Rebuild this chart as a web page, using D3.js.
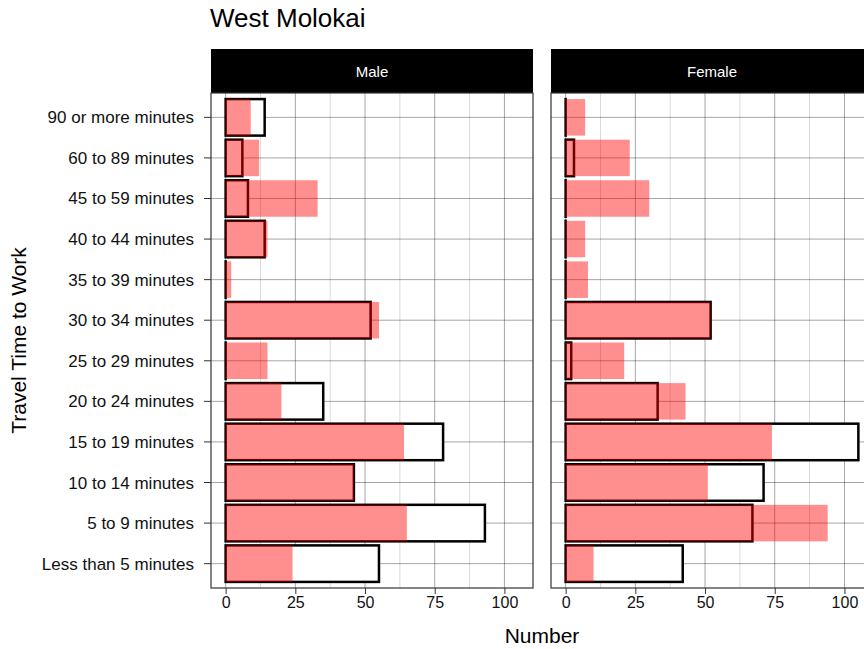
<head>
	<script src="https://d3js.org/d3.v7.min.js"></script>
	<style type="text/css">
		body { margin: 0; }
		text { font-family: "Liberation Sans", Arial, sans-serif; }
	</style>
</head>
<body>
	<script type="text/javascript">
		const categories = ['Less than 5 minutes', '5 to 9 minutes', '10 to 14 minutes', '15 to 19 minutes',
			'20 to 24 minutes', '25 to 29 minutes', '30 to 34 minutes', '35 to 39 minutes',
			'40 to 44 minutes', '45 to 59 minutes', '60 to 89 minutes', '90 or more minutes']
		const panels = ['Male', 'Female']
		// outlined bars
		const maleOutline   = [55, 93, 46, 78, 35, 0, 52, 0, 14, 8, 6, 14]
		const femaleOutline = [42, 67, 71, 105, 33, 2, 52, 0, 0, 0, 3, 0]
		// red translucent bars
		const maleRed   = [24, 65, 46, 64, 20, 15, 55, 2, 15, 33, 12, 9]
		const femaleRed = [10, 94, 51, 74, 43, 21, 52, 8, 7, 30, 23, 7]
		const xTicks = [0, 25, 50, 75, 100]
		const minorTicks = [12.5, 37.5, 62.5, 87.5]

		const width = 864, height = 649
		const panelW = 322, panelTop = 93, panelBottom = 588, stripTop = 49
		const panelLeft = [211, 551]

		const svg = d3.select('body').append('svg')
			.attr('width', width)
			.attr('height', height)

		svg.append('text')
			.attr('x', 210).attr('y', 27)
			.style('font-size', '26px')
			.text('West Molokai')

		// ggplot style discrete axis: 0.6 expansion each side
		const order = categories.slice().reverse()
		const step = (panelBottom - panelTop) / (categories.length - 1 + 1.2)
		const yc = c => panelTop + step * (0.6 + order.indexOf(c))
		const barH = step * 0.9

		const outlineData = [maleOutline, femaleOutline]
		const redData = [maleRed, femaleRed]

		panels.forEach(function(name, p) {
			const x = d3.scaleLinear().domain([-5.25, 110.25]).range([panelLeft[p], panelLeft[p] + panelW])
			const g = svg.append('g')

			// strip
			g.append('rect')
				.attr('x', panelLeft[p]).attr('y', stripTop)
				.attr('width', panelW).attr('height', panelTop - stripTop)
				.style('fill', 'black')
			g.append('text')
				.attr('x', panelLeft[p] + panelW / 2).attr('y', 77)
				.attr('text-anchor', 'middle')
				.style('fill', 'white').style('font-size', '15px')
				.text(name)

			// grid
			g.selectAll('.minor').data(minorTicks).enter().append('line')
				.attr('x1', d => x(d)).attr('x2', d => x(d))
				.attr('y1', panelTop).attr('y2', panelBottom)
				.style('stroke', 'rgba(0,0,0,0.15)').style('stroke-width', 1)
			g.selectAll('.major').data(xTicks).enter().append('line')
				.attr('x1', d => x(d)).attr('x2', d => x(d))
				.attr('y1', panelTop).attr('y2', panelBottom)
				.style('stroke', 'rgba(0,0,0,0.35)').style('stroke-width', 1)
			g.selectAll('.hgrid').data(categories).enter().append('line')
				.attr('x1', panelLeft[p]).attr('x2', panelLeft[p] + panelW)
				.attr('y1', d => yc(d)).attr('y2', d => yc(d))
				.style('stroke', 'rgba(0,0,0,0.35)').style('stroke-width', 1)

			// outlined bars (zero-width ones still show their border line)
			g.selectAll('.outline').data(categories).enter().append('rect')
				.attr('x', x(0))
				.attr('y', d => yc(d) - barH / 2)
				.attr('width', (d, i) => Math.max(x(outlineData[p][i]) - x(0), 0.01))
				.attr('height', barH)
				.style('fill', 'white')
				.style('stroke', 'black')
				.style('stroke-width', 2.5)

			// red bars
			g.selectAll('.red').data(categories).enter().append('rect')
				.attr('x', x(0))
				.attr('y', d => yc(d) - barH / 2)
				.attr('width', (d, i) => x(redData[p][i]) - x(0))
				.attr('height', barH)
				.style('fill', 'red')
				.style('fill-opacity', 0.44)

			// panel border
			g.append('rect')
				.attr('x', panelLeft[p]).attr('y', panelTop)
				.attr('width', panelW).attr('height', panelBottom - panelTop)
				.style('fill', 'none').style('stroke', '#333').style('stroke-width', 1.2)

			// x axis
			const ax = g.append('g')
				.attr('transform', 'translate(0,' + panelBottom + ')')
				.call(d3.axisBottom(x).tickValues(xTicks).tickSize(6).tickPadding(3))
			ax.select('.domain').remove()
			ax.selectAll('text').style('font-size', '16px').style('fill', '#111')
				.style('font-family', '"Liberation Sans", Arial, sans-serif')
			ax.selectAll('line').style('stroke', '#333')
		})

		// y axis
		const yAxis = svg.append('g')
			.attr('transform', 'translate(' + panelLeft[0] + ',0)')
		yAxis.selectAll('line').data(categories).enter().append('line')
			.attr('x1', -7).attr('x2', 0)
			.attr('y1', d => yc(d)).attr('y2', d => yc(d))
			.style('stroke', '#333')
		yAxis.selectAll('text').data(categories).enter().append('text')
			.attr('x', -17).attr('y', d => yc(d) + 6)
			.attr('text-anchor', 'end')
			.style('font-size', '17px')
			.style('fill', '#111')
			.text(d => d)

		svg.append('text')
			.attr('x', 542).attr('y', 643)
			.attr('text-anchor', 'middle')
			.style('font-size', '21px')
			.text('Number')

		svg.append('text')
			.attr('transform', 'translate(26,' + (panelTop + panelBottom) / 2 + ') rotate(-90)')
			.attr('text-anchor', 'middle')
			.style('font-size', '21px')
			.text('Travel Time to Work')
	</script>
</body>
